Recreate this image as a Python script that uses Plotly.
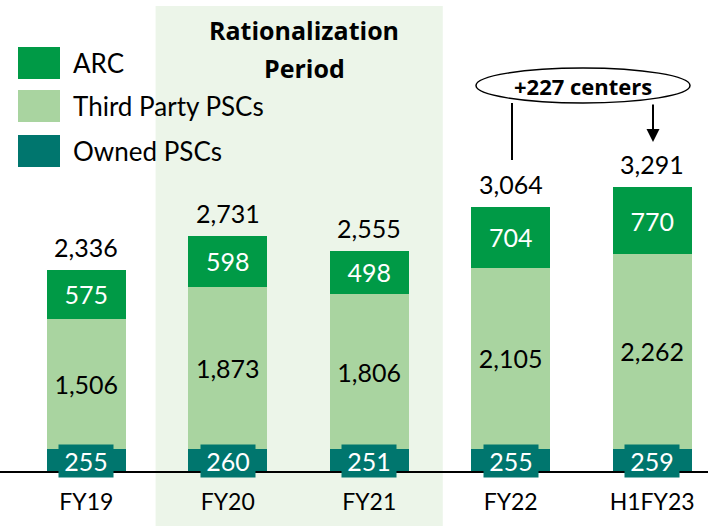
import plotly.graph_objects as go

categories = ["FY19", "FY20", "FY21", "FY22", "H1FY23"]
owned = [255, 260, 251, 255, 259]
third_party = [1506, 1873, 1806, 2105, 2262]
arc = [575, 598, 498, 704, 770]
totals = [2336, 2731, 2555, 3064, 3291]

C_ARC = "#009A46"
C_THIRD = "#A9D4A0"
C_OWNED = "#00766E"
C_BAND = "#ECF5E9"
FONT = "Lato"
BOLD = "Open Sans"
NUM = 25

W, H = 708, 526
PLOT_BOTTOM = 471  # pixel y of baseline


def px(x):
    return x / W


def py(y):
    return (PLOT_BOTTOM - y) / PLOT_BOTTOM


fig = go.Figure()
fig.add_bar(x=categories, y=owned, marker_color=C_OWNED, marker_line_width=0,
            name="Owned PSCs", showlegend=False)
fig.add_bar(x=categories, y=third_party, marker_color=C_THIRD, marker_line_width=0,
            name="Third Party PSCs", showlegend=False,
            text=[f"{v:,}" for v in third_party], textposition="inside",
            insidetextanchor="middle", textangle=0,
            textfont=dict(family=FONT, size=NUM, color="black"))
fig.add_bar(x=categories, y=arc, marker_color=C_ARC, marker_line_width=0,
            name="ARC", showlegend=False,
            text=[f"{v:,}" for v in arc], textposition="inside",
            insidetextanchor="middle", textangle=0,
            textfont=dict(family=FONT, size=NUM, color="white"))

annotations = []
for c, o in zip(categories, owned):
    annotations.append(dict(x=c, y=o / 2, xref="x", yref="y", text=f"{o:,}",
                            showarrow=False, bgcolor=C_OWNED, width=54, height=32,
                            borderpad=0, yshift=-1, yanchor="middle",
                            font=dict(family=FONT, size=NUM, color="white")))
for c, t in zip(categories, totals):
    annotations.append(dict(x=c, y=t, xref="x", yref="y", text=f"{t:,}",
                            showarrow=False, yanchor="bottom", yshift=6,
                            font=dict(family=FONT, size=NUM, color="black")))

# Rationalization Period title
for txt, yy in (("Rationalization", 30), ("Period", 68)):
    annotations.append(dict(x=px(304), y=py(yy), xref="paper", yref="paper",
                            text=f"<b>{txt}</b>", showarrow=False,
                            yanchor="middle", xanchor="center",
                            font=dict(family=BOLD, size=25, color="black")))

# +227 centers
annotations.append(dict(x=px(583), y=py(86), xref="paper", yref="paper",
                        text="<b>+227 centers</b>", showarrow=False,
                        yanchor="middle", xanchor="center",
                        font=dict(family=BOLD, size=22, color="black")))
annotations.append(dict(x=px(653), y=py(142), xref="paper", yref="paper",
                        text="", showarrow=True, ax=0, ay=-39, arrowhead=2,
                        arrowsize=1.3, arrowwidth=2, arrowcolor="black"))

# legend
legend_items = [("ARC", C_ARC, 63), ("Third Party PSCs", C_THIRD, 106),
                ("Owned PSCs", C_OWNED, 151)]
shapes = [
    dict(type="rect", xref="x", yref="paper", x0=0.49, x1=2.52,
         y0=py(526), y1=py(6), fillcolor=C_BAND, line_width=0, layer="below"),
    dict(type="circle", xref="paper", yref="paper", x0=px(476), x1=px(690),
         y0=py(103), y1=py(68), line=dict(color="black", width=1.5),
         fillcolor="white"),
    dict(type="line", xref="paper", yref="paper", x0=px(512), x1=px(512),
         y0=py(103), y1=py(160), line=dict(color="black", width=2)),
]
for name, col, cy in legend_items:
    shapes.append(dict(type="rect", xref="paper", yref="paper", x0=px(18), x1=px(60),
                       y0=py(cy + 16), y1=py(cy - 16), fillcolor=col, line_width=0))
    annotations.append(dict(x=px(71), y=py(cy), xref="paper", yref="paper",
                            text=name, showarrow=False, xanchor="left",
                            yanchor="middle",
                            font=dict(family=FONT, size=26, color="black")))

fig.update_layout(
    width=W, height=H,
    margin=dict(l=0, r=0, t=0, b=H - PLOT_BOTTOM, pad=0),
    paper_bgcolor="white", plot_bgcolor="rgba(0,0,0,0)",
    barmode="stack", bargap=0.44,
    shapes=shapes, annotations=annotations,
    uniformtext=dict(mode=False),
    xaxis=dict(range=[-0.61, 4.395], showgrid=False, zeroline=False,
               showline=True, linecolor="black", linewidth=2, ticks="",
               tickfont=dict(family=FONT, size=23, color="black"),
               ticklabelstandoff=9),
    yaxis=dict(range=[0, 5464], visible=False, showgrid=False),
)

fig.write_html("out.html", config={"displayModeBar": False},
               post_script="document.body.style.margin='0';document.body.style.overflow='hidden';")
